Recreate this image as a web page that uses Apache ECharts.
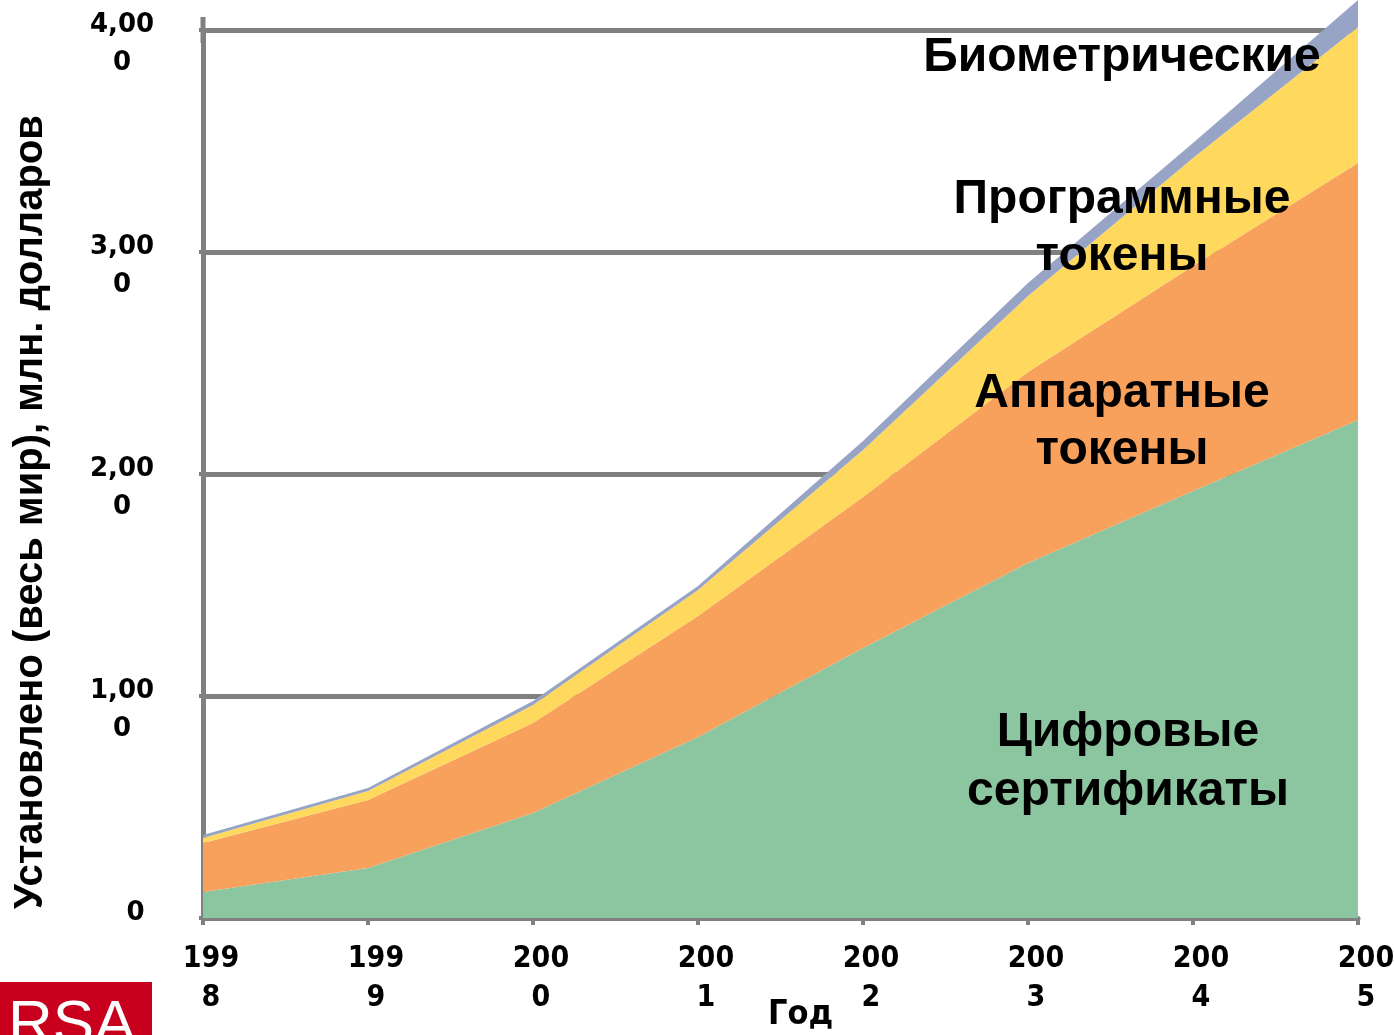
<!DOCTYPE html>
<html>
<head>
<meta charset="utf-8">
<script src="https://cdn.jsdelivr.net/npm/echarts@6/dist/echarts.min.js"></script>
<style>
html,body{margin:0;padding:0;background:#fff;}
#chart{width:1394px;height:1035px;}
</style>
</head>
<body>
<div id="chart"></div>
<script>
const years = ['1998','1999','2000','2001','2002','2003','2004','2005'];
const certificates = [117, 225, 473, 815, 1216, 1599, 1923, 2243];
const hardwareTokens = [221, 307, 405, 545, 680, 860, 1014, 1158];
const softwareTokens = [22, 40, 81, 117, 212, 343, 486, 613];
const biometrics = [14, 14, 18, 18, 41, 58, 68, 121];
const seriesNames = ['Цифровые сертификаты', 'Аппаратные токены', 'Программные токены', 'Биометрические'];

const chart = echarts.init(document.getElementById('chart'), null, {renderer: 'canvas'});
const gray = '#808080';
const narrow = '"DejaVu Sans Condensed", "Liberation Sans Narrow", "Liberation Sans", Arial, sans-serif';
function mk(name, data, color) {
  return {
    name: name, type: 'line', stack: 'total', data: data,
    symbol: 'none', clip: false,
    lineStyle: {width: 0, color: color},
    areaStyle: {color: color, opacity: 1},
    itemStyle: {color: color}
  };
}
function yFmt(v) {
  if (v === 0) return '   0\n ';
  const s = (v / 1000).toFixed(0) + ',000';
  return s.slice(0, 4) + '\n' + s.slice(4);
}
const labelFont = 'bold 48px "Liberation Sans", Arial, sans-serif';
chart.setOption({
  animation: false,
  backgroundColor: '#fff',
  grid: [
    {left: 203, right: 36, top: 30, bottom: 117, containLabel: false, outerBoundsMode: 'none'},
    {left: 211, right: 28, top: 44, bottom: 103, containLabel: false, outerBoundsMode: 'none', show: false}
  ],
  xAxis: [{
    type: 'category', data: years, boundaryGap: false, gridIndex: 0,
    name: 'Год', nameLocation: 'middle', nameGap: 80, nameMoveOverlap: false,
    nameTextStyle: {fontFamily: narrow, fontWeight: 'bold', fontSize: 34, color: '#000', padding: [0, 0, 0, 40]},
    axisLine: {lineStyle: {color: gray, width: 5}},
    axisTick: {show: true, length: 7, lineStyle: {color: gray, width: 4}},
    axisLabel: {show: false},
    splitLine: {show: false}
  }, {
    type: 'category', data: years, boundaryGap: false, gridIndex: 1,
    axisLine: {show: false}, axisTick: {show: false}, splitLine: {show: false},
    axisLabel: {
      margin: 8, interval: 0,
      formatter: v => v.slice(0, 3) + '\n' + v.slice(3),
      fontFamily: narrow, fontWeight: 'bold', fontSize: 30, color: '#000', lineHeight: 39
    }
  }],
  yAxis: [{
    type: 'value', min: 0, max: 4000, interval: 1000, gridIndex: 0,
    name: 'Установлено (весь мир), млн. долларов', nameLocation: 'middle', nameGap: 152, nameRotate: 90,
    nameTextStyle: {fontFamily: 'Liberation Sans', fontWeight: 'bold', fontSize: 40, color: '#000', padding: [0, 0, 0, -76]},
    axisLine: {show: true, symbol: ['none', 'rect'], symbolSize: [5, 26], lineStyle: {color: gray, width: 5}},
    axisTick: {show: true, length: 4, lineStyle: {color: gray, width: 4}},
    axisLabel: {show: false},
    splitLine: {show: true, lineStyle: {color: gray, width: 5}}
  }, {
    type: 'value', min: 0, max: 4000, interval: 1000, gridIndex: 1,
    axisLine: {show: false}, axisTick: {show: false}, splitLine: {show: false},
    axisLabel: {
      margin: 89, align: 'center', verticalAlign: 'middle', formatter: yFmt,
      fontFamily: 'DejaVu Sans', fontWeight: 'bold', fontSize: 26, color: '#000', lineHeight: 38
    }
  }],
  series: [
    mk(seriesNames[0], certificates, '#8cc6a0'),
    mk(seriesNames[1], hardwareTokens, '#f7a15d'),
    mk(seriesNames[2], softwareTokens, '#fed95e'),
    mk(seriesNames[3], biometrics, '#98a4c5')
  ],
  graphic: [
    {type: 'text', x: 1122, y: 58, z: 100, style: {text: 'Биометрические', font: labelFont, fill: '#000', align: 'center', verticalAlign: 'middle'}},
    {type: 'text', x: 1122, y: 228, z: 100, style: {text: 'Программные\nтокены', font: labelFont, lineHeight: 57, fill: '#000', align: 'center', verticalAlign: 'middle'}},
    {type: 'text', x: 1122, y: 422, z: 100, style: {text: 'Аппаратные\nтокены', font: labelFont, lineHeight: 57, fill: '#000', align: 'center', verticalAlign: 'middle'}},
    {type: 'text', x: 1128, y: 762, z: 100, style: {text: 'Цифровые\nсертификаты', font: labelFont, lineHeight: 59, fill: '#000', align: 'center', verticalAlign: 'middle'}},
    {type: 'rect', shape: {x: 0, y: 982, width: 152, height: 60}, style: {fill: '#c8001e'}, z: 100},
    {type: 'text', x: 8, y: 995, z: 101, style: {text: 'RSA', font: 'normal 62px "Liberation Sans", Arial, sans-serif', fill: '#fff', align: 'left', verticalAlign: 'top'}}
  ]
});
</script>
</body>
</html>
